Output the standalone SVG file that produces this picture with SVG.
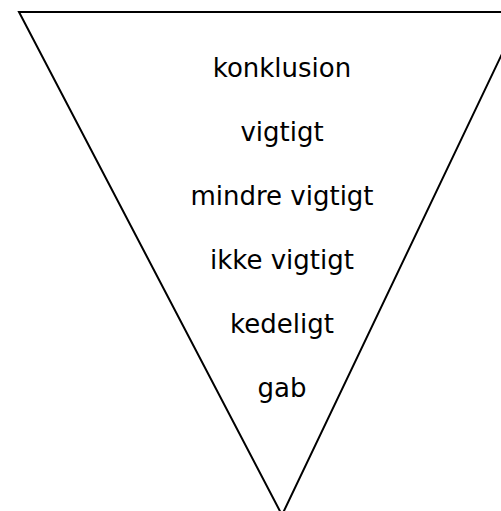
<svg xmlns="http://www.w3.org/2000/svg" width="501" height="511" viewBox="0 0 501 511">
  <style>
    .funnel { fill: #ffffff; stroke: #000000; stroke-width: 2; }
    .label { font-family: "DejaVu Sans", Verdana, sans-serif; font-size: 26px; fill: #000000; text-anchor: middle; }
  </style>
  <rect width="501" height="511" fill="#ffffff"/>
  <g id="funnel">
    <polygon class="funnel" points="19,12 522,12 282,515"/>
  </g>
  <g id="levels">
    <text id="konklusion" class="label" x="282" y="77">konklusion</text>
    <text id="vigtigt" class="label" x="282" y="141">vigtigt</text>
    <text id="mindre-vigtigt" class="label" x="282" y="205">mindre vigtigt</text>
    <text id="ikke-vigtigt" class="label" x="282" y="269">ikke vigtigt</text>
    <text id="kedeligt" class="label" x="282" y="333">kedeligt</text>
    <text id="gab" class="label" x="282" y="397">gab</text>
  </g>
</svg>
